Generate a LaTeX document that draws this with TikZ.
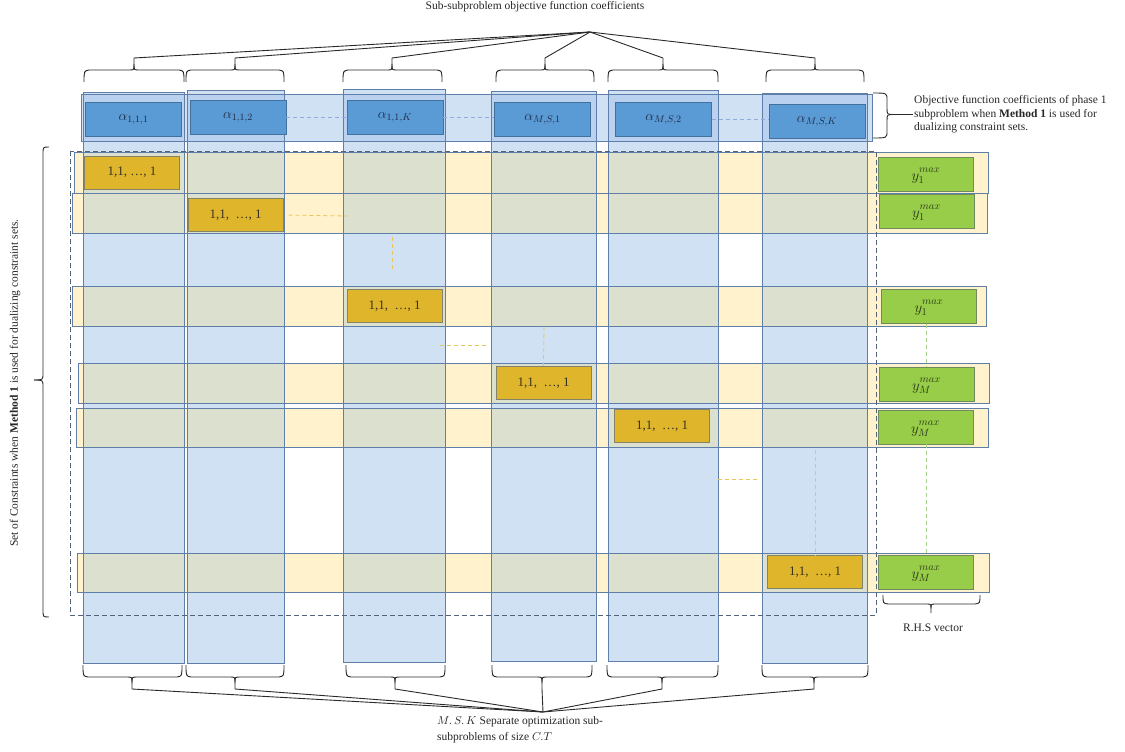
\documentclass[tikz,border=0pt]{standalone}
\usepackage{fix-cm}
\usepackage{fontspec}
\setmainfont{Liberation Serif}

\definecolor{colfillc}{HTML}{A4C3EA}
\definecolor{edgeblue}{HTML}{5F7FA8}
\definecolor{rowfillc}{HTML}{FFF2CC}
\definecolor{overlapc}{HTML}{DCE0CE}
\definecolor{alphafill}{HTML}{5B9BD5}
\definecolor{alphaedge}{HTML}{41719C}
\definecolor{goldfill}{HTML}{DEB52B}
\definecolor{goldedge}{HTML}{85826A}
\definecolor{greenfill}{HTML}{97CD48}
\definecolor{greenedge}{HTML}{6F8A5C}
\definecolor{outerdashc}{HTML}{52637A}
\definecolor{bluedashc}{HTML}{8FAADC}
\definecolor{golddashc}{HTML}{E8C65C}
\definecolor{greendashc}{HTML}{A9D18E}
\definecolor{alphatext}{HTML}{1E2B48}
\definecolor{goldtext}{HTML}{3A3222}
\definecolor{greentext}{HTML}{2C3A18}
\definecolor{labeltext}{HTML}{262626}
\definecolor{bracec}{HTML}{2A2A2A}

% horizontal curly brace: left end, right end, cusp x, y of the ends,
% vertical scale (sign gives the side of the cusp), name of the tip
\newcommand{\hbrace}[6]{%
  \begin{scope}[shift={(0,#4)},yscale=#5]
    \draw[bracepen] (#1,0) .. controls (#1,-11) .. (#1+5,-12) -- (#3-5,-12)
      .. controls (#3,-12) .. (#3,-18) -- (#3,-24) coordinate (#6);
    \draw[bracepen] (#2,0) .. controls (#2,-11) .. (#2-5,-12) -- (#3+5,-12)
      .. controls (#3,-12) .. (#3,-18);
  \end{scope}}
% right-hand side entry with its superscript kept clear of the index
\newcommand{\ymax}[1]{$y_{#1}^{\mathstrut max}$}

\begin{document}
\begin{tikzpicture}[x=1pt,y=-1pt,
  colfill/.style={fill=colfillc,fill opacity=0.5},
  edge/.style={draw=edgeblue,line width=0.9pt},
  abox/.style={draw=alphaedge,fill=alphafill,line width=0.9pt,minimum width=96pt,
    minimum height=34pt,inner sep=0pt,text=alphatext,font=\fontsize{14}{14}\selectfont},
  goldbox/.style={draw=goldedge,fill=goldfill,line width=0.9pt,minimum width=95pt,
    minimum height=33pt,inner sep=0pt,text=goldtext,font=\fontsize{13}{13}\selectfont},
  greenbox/.style={draw=greenedge,fill=greenfill,line width=0.9pt,minimum width=95pt,
    minimum height=34pt,inner sep=0pt,text=greentext,font=\fontsize{15}{15}\selectfont},
  bracepen/.style={draw=bracec,line width=0.9pt},
  lbl/.style={font=\fontsize{11.5}{13.5}\selectfont,text=labeltext,inner sep=1pt},
  bdash/.style={draw=bluedashc,line width=0.8pt,dash pattern=on 4pt off 3pt},
  gdash/.style={draw=golddashc,line width=0.8pt,dash pattern=on 4pt off 3pt},
  grdash/.style={draw=greendashc,line width=0.8pt,dash pattern=on 4pt off 3pt},
  outerdash/.style={draw=outerdashc,line width=0.8pt,dash pattern=on 5pt off 3pt}]

\useasboundingbox (0,0) rectangle (1125,752);

% sub-subproblem columns and the objective row
\foreach \xa/\xb/\ya/\yb in {83/184/92/663,187/284/90/663,343/445/89/662,
    491/596/91/661,608/718/90/661,762/867/93/663}
  \fill[colfill] (\xa,\ya) rectangle (\xb,\yb);
\fill[colfill] (81,94) rectangle (872,141);

% constraint rows, with their overlap with the columns
\foreach \xa/\ya/\xb/\yb in {74/152/988/193,72/193/987/233,72/286/986/326,
    78/363/989/403,76/408/988/447,77/553/989/592} {
  \fill[rowfillc] (\xa,\ya) rectangle (\xb,\yb);
  \begin{scope}
    \clip (\xa,\ya) rectangle (\xb,\yb);
    \foreach \ca/\cb in {83/184,187/284,343/445,491/596,608/718,762/867}
      \fill[overlapc] (\ca,100) rectangle (\cb,650);
  \end{scope}
}

% outlines
\foreach \xa/\xb/\ya/\yb in {83/184/92/663,187/284/90/663,343/445/89/662,
    491/596/91/661,608/718/90/661,762/867/93/663}
  \draw[edge] (\xa,\ya) rectangle (\xb,\yb);
\draw[edge] (81,94) rectangle (872,141);
\foreach \xa/\ya/\xb/\yb in {74/152/988/193,72/193/987/233,72/286/986/326,
    78/363/989/403,76/408/988/447,77/553/989/592}
  \draw[edge] (\xa,\ya) rectangle (\xb,\yb);

% objective coefficients
\node[abox] (a1) at (133.5,119) {$\alpha_{1,1,1}$};
\node[abox] (a2) at (238,117.5) {$\alpha_{1,1,2}$};
\node[abox] (a3) at (395,117.5) {$\alpha_{1,1,K}$};
\node[abox] (a4) at (542.5,119) {$\alpha_{M,S,1}$};
\node[abox] (a5) at (663.5,119.5) {$\alpha_{M,S,2}$};
\node[abox] (a6) at (817,121.5) {$\alpha_{M,S,K}$};
\draw[bdash] (a2.east) -- (a2.east -| a3.west);
\draw[bdash] (a3.east) -- (a3.east -| a4.west);
\draw[bdash] (a5.east) -- (a5.east -| a6.west);

% constraint coefficients
\node[goldbox] (g1) at (132,172.5) {1,1, …, 1};
\node[goldbox] (g2) at (235.5,215) {1,1,~~…, 1};
\node[goldbox] (g3) at (394.5,306) {1,1,~~…, 1};
\node[goldbox] (g4) at (543.5,383) {1,1,~~…, 1};
\node[goldbox] (g5) at (662,426) {1,1,~~…, 1};
\node[goldbox] (g6) at (815,572) {1,1,~~…, 1};

\coordinate (p1) at (348,216);
\coordinate (p2) at (392,237);
\coordinate (p3) at (392,272);
\coordinate (p4) at (440,345);
\coordinate (p5) at (488,345);
\coordinate (p6) at (544,327);
\coordinate (p7) at (718,479);
\coordinate (p8) at (758,479);
\coordinate (p9) at (815,450);
\draw[gdash,shorten <=5pt] (g2.east) -- (p1);
\draw[gdash] (p2) -- (p3);
\draw[gdash] (p4) -- (p5);
\draw[gdash] (p6) -- (g4.north);
\draw[gdash] (p7) -- (p8);
\draw[gdash] (p9) -- (g6.north);

% right-hand side
\node[greenbox] (y1) at (926,174) {\ymax{1}};
\node[greenbox] (y2) at (926.5,211) {\ymax{1}};
\node[greenbox] (y3) at (929,306.5) {\ymax{1}};
\node[greenbox] (y4) at (926.5,384) {\ymax{M}};
\node[greenbox] (y5) at (925.5,427) {\ymax{M}};
\node[greenbox] (y6) at (926,572) {\ymax{M}};
\draw[grdash] (y4.north |- y3.south) -- (y4.north);
\draw[grdash] (y6.north |- y5.south) -- (y6.north);

% constraint set frame
\draw[outerdash] (70,151) rectangle (876,615);

% braces over the columns
\hbrace{84}{184}{134}{82}{1}{t1}
\hbrace{186}{284}{235}{82}{1}{t2}
\hbrace{343}{442}{392}{82}{1}{t3}
\hbrace{496}{594}{545}{82}{1}{t4}
\hbrace{608}{718}{663}{82}{1}{t5}
\hbrace{766}{864}{815}{82}{1}{t6}
\coordinate (topapex) at (590,32);
\foreach \t in {t1,t2,t3,t4,t5,t6}
  \draw[bracepen] (\t) -- (topapex);
\node[lbl] (title) at (535,7) {Sub-subproblem objective function coefficients};

% braces under the columns
\hbrace{83}{182}{132}{665}{-1}{d1}
\hbrace{186}{284}{235}{665}{-1}{d2}
\hbrace{346}{445}{395}{665}{-1}{d3}
\hbrace{492}{592}{542}{665}{-1}{d4}
\hbrace{607}{718}{662}{665}{-1}{d5}
\hbrace{762}{868}{814}{665}{-1}{d6}
\coordinate (botapex) at (543,712);
\foreach \t in {d1,d2,d3,d4,d5,d6}
  \draw[bracepen] (\t) -- (botapex);
\node[lbl,anchor=north west,align=left] (sublabel) at (436,715)
  {$M.\,S.\,K$ Separate optimization sub-\\[2.5pt]subproblems of size $C.T$};

% brace beside the objective row
\draw[bracepen] (873,93) .. controls (887,93) .. (887,100) -- (887,108)
  .. controls (887,114.5) .. (894,114.5) coordinate (rtip);
\draw[bracepen] (873,138) .. controls (887,138) .. (887,131) -- (887,121)
  .. controls (887,114.5) .. (894,114.5);
\node[lbl,anchor=west,align=left] (objlabel) at (913,114.5)
  {Objective function coefficients of phase 1\\subproblem when \textbf{Method 1} is used for\\dualizing constraint sets.};
\draw[bracepen] (rtip) -- (objlabel.west);

% brace beside the constraint set
\draw[bracepen] (49,147) .. controls (43,147) .. (43,154) -- (43,373)
  .. controls (43,380) .. (34,380) coordinate (ltip);
\draw[bracepen] (49,617) .. controls (43,617) .. (43,610) -- (43,387)
  .. controls (43,380) .. (34,380);
\node[lbl,rotate=90] (conlabel) at (15,383)
  {Set of Constraints when \textbf{Method 1} is used for dualizing constraint sets.};

% brace under the right-hand side vector
\hbrace{883}{980}{931}{595}{-0.75}{rhs}
\node[lbl] (rhslabel) at (933,628) {R.H.S vector};

\end{tikzpicture}
\end{document}
